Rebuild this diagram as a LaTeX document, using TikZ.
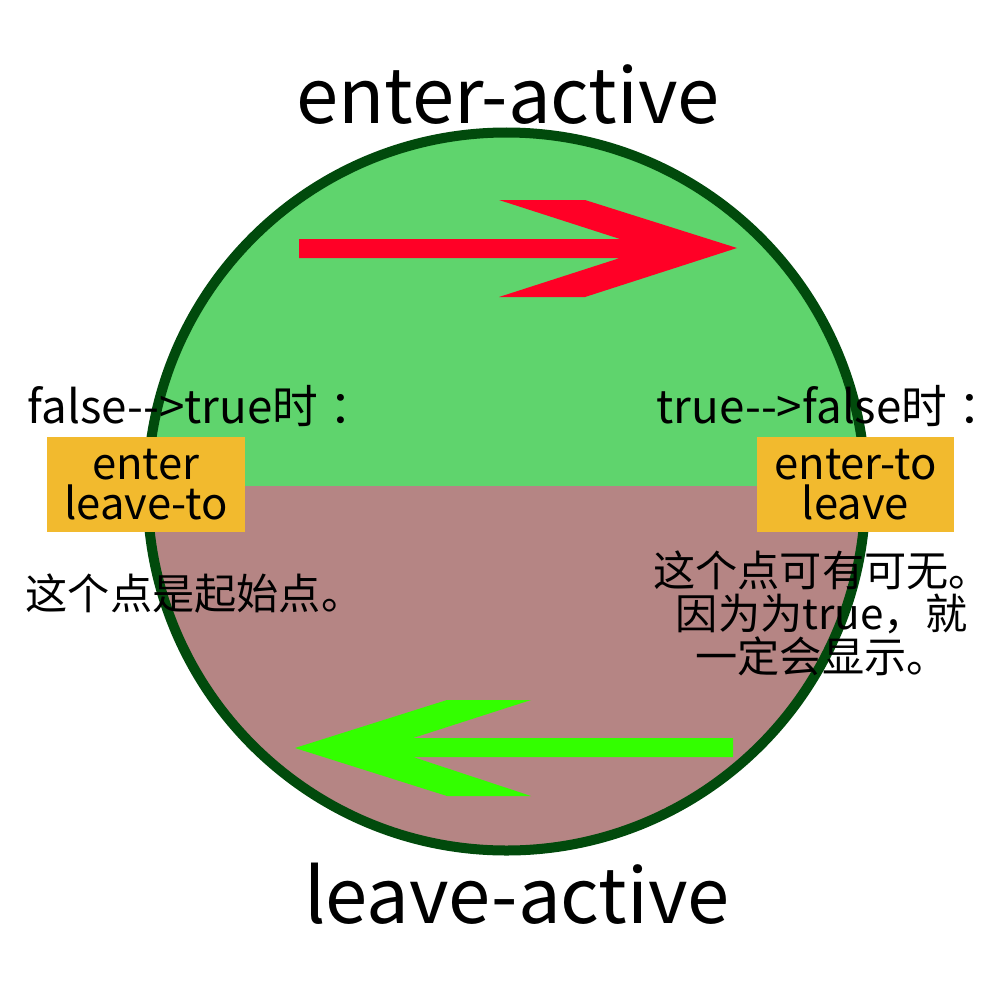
\documentclass[tikz,border=0pt]{standalone}
\usepackage{fontspec}
\setmainfont{Noto Sans CJK SC}[Ligatures=TeXOff]
\usetikzlibrary{positioning}

\definecolor{ringgreen}{HTML}{014A0C}
\definecolor{topfill}{HTML}{5FD46D}
\definecolor{botfill}{HTML}{B58584}
\definecolor{redarrow}{HTML}{FF0026}
\definecolor{greenarrow}{HTML}{33FF00}
\definecolor{tagfill}{HTML}{F2BA2E}

\begin{document}
\begin{tikzpicture}[x=0.01cm, y=-0.01cm,
  title/.style={font=\fontsize{21.6}{26}\selectfont, inner sep=0pt, anchor=base},
  lbl/.style={font=\fontsize{13}{14}\selectfont, inner sep=0pt, anchor=base west},
  note/.style={font=\fontsize{12}{12.2}\selectfont, inner sep=0pt, align=center},
  tag/.style={fill=tagfill, rectangle, minimum width=1.97cm, minimum height=0.95cm,
    align=center, inner sep=0pt, font=\fontsize{12.4}{11.6}\selectfont},
]
\useasboundingbox (0,0) rectangle (1000,1000);

%==================== LINGKARAN ====================
\begin{scope}
  \clip (506.5,491.5) circle (359);
  \fill[topfill] (140,120) rectangle (880,486);
  \fill[botfill] (140,486) rectangle (880,860);
\end{scope}
\draw[ringgreen, line width=10*0.2845pt] (506.5,491.5) circle (359);

%==================== PANAH ====================
\fill[redarrow] (299,239) -- (620,239) -- (499,200) -- (585,200) -- (737,248)
  -- (585,297) -- (499,297) -- (620,258) -- (299,258) -- cycle;
\fill[greenarrow] (733,738) -- (413,738) -- (531,700) -- (447,700) -- (295,748)
  -- (447,796) -- (531,796) -- (413,757) -- (733,757) -- cycle;

%==================== JUDUL ====================
\node[title] (enteract) at (508,123) {enter-active};
\node[title] (leaveact) at (517,923) {leave-active};

%==================== KIRI ====================
\node[lbl] (ftlbl) at (27,423) {false-->true时\hspace{0.25em}：};
\node[tag] (fttag) at (146,484.5) {enter\\leave-to};
\node[note, anchor=west] (ftnote) at (25,593) {这个点是起始点。};

%==================== KANAN ====================
\node[lbl] (tflbl) at (656,423) {true-->false时\hspace{0.25em}：};
\node[tag] (tftag) at (855.5,484.5) {enter-to\\leave};
\node[note] (tfnote) at (822,613) {这个点可有可无。\\因为为true，就\\一定会显示。};

\end{tikzpicture}
\end{document}
